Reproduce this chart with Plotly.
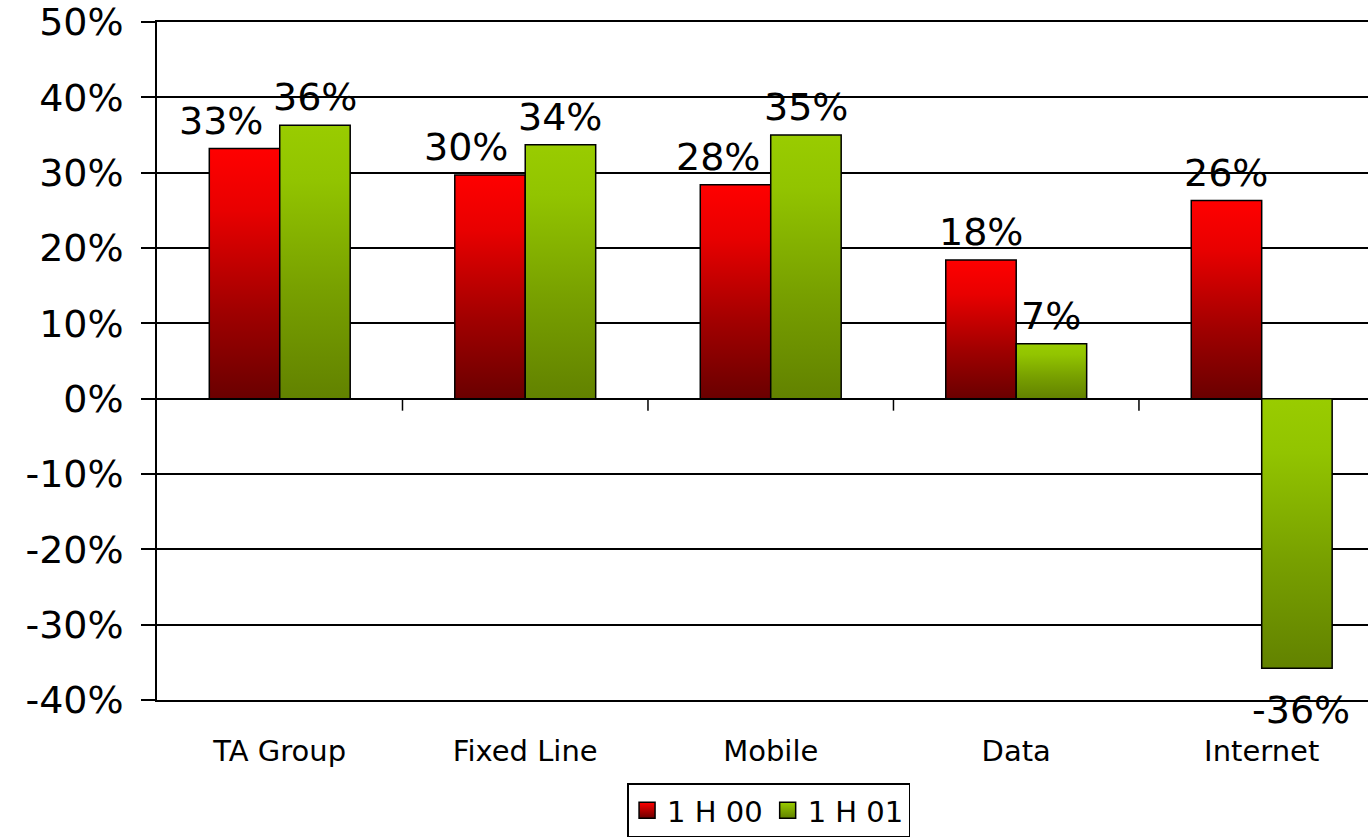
import plotly.graph_objects as go

# Growth by business segment, first half of 2000 vs first half of 2001
categories = ["TA Group", "Fixed Line", "Mobile", "Data", "Internet"]
h1_00 = [33.2, 29.7, 28.4, 18.4, 26.3]
h1_01 = [36.3, 33.7, 35.0, 7.3, -35.8]
series_names = ["1 H 00", "1 H 01"]
y_ticks = [-40, -30, -20, -10, 0, 10, 20, 30, 40, 50]

FONT = "DejaVu Sans"
BAR_W = 0.287          # width of one bar, in category units
RED_SCALE = [[0, "#6a0000"], [0.35, "#a00000"], [0.75, "#e80000"], [1, "#ff0000"]]
GREEN_SCALE = [[0, "#628200"], [0.4, "#78a000"], [0.8, "#92c400"], [1, "#99cc00"]]

fig = go.Figure()


def add_bar(idx, value, side, scale, name):
    # side = -1 draws the left bar of a group, +1 the right one
    x0 = idx if side > 0 else idx - BAR_W
    x1 = x0 + BAR_W
    fig.add_trace(go.Scatter(
        x=[x0, x0, x1, x1, x0],
        y=[0, value, value, 0, 0],
        mode="lines",
        fill="toself",
        fillgradient=dict(type="vertical", colorscale=scale),
        line=dict(color="black", width=1.5),
        hoverinfo="skip",
        showlegend=False,
        legendgroup=name,
    ))


for i, v in enumerate(h1_00):
    add_bar(i, v, -1, RED_SCALE, series_names[0])
for i, v in enumerate(h1_01):
    add_bar(i, v, +1, GREEN_SCALE, series_names[1])

# legend entries
for name, top, bottom in [(series_names[0], "#ff0000", "#6a0000"),
                          (series_names[1], "#99cc00", "#628200")]:
    fig.add_trace(go.Scatter(
        x=[None], y=[None], mode="markers", name=name, legendgroup=name,
        marker=dict(symbol="square", size=20, color=top,
                    gradient=dict(type="vertical", color=bottom),
                    line=dict(color="black", width=1.5)),
    ))

# value labels; the first three red labels sit a little to the left
label_shift = [-24, -24, -18, 0, 0]
for i, v in enumerate(h1_00):
    fig.add_annotation(x=i - BAR_W / 2, y=v, text=f"{round(v)}%", showarrow=False,
                       yanchor="bottom", yshift=4, xshift=label_shift[i],
                       font=dict(family=FONT, size=38, color="black"))
for i, v in enumerate(h1_01):
    fig.add_annotation(x=i + BAR_W / 2, y=v, text=f"{round(v)}%",
                       showarrow=False,
                       yanchor="bottom" if v >= 0 else "top",
                       yshift=4 if v >= 0 else -18, xshift=0 if v >= 0 else 4,
                       font=dict(family=FONT, size=38, color="black"))

# small tick marks on the zero line between categories
for b in range(1, len(categories)):
    fig.add_shape(type="line", xref="x", yref="y", x0=b - 0.5, x1=b - 0.5,
                  ysizemode="pixel", yanchor=0, y0=0, y1=-12,
                  line=dict(color="black", width=1.5))

fig.update_layout(
    width=1368, height=839,
    margin=dict(l=157, r=0, t=22, b=139),
    paper_bgcolor="white", plot_bgcolor="white",
    font=dict(family=FONT, color="black"),
    showlegend=True,
    legend=dict(orientation="h", x=0.505, xanchor="center", y=-0.123, yanchor="top",
                bordercolor="black", borderwidth=1.5, bgcolor="white",
                font=dict(family=FONT, size=29), itemclick=False,
                tracegroupgap=0, itemwidth=30),
    xaxis=dict(range=[-0.5, 4.433], tickvals=list(range(len(categories))),
               ticktext=categories, showgrid=False, zeroline=False,
               showline=True, mirror=True, linecolor="black", linewidth=1.5,
               ticks="", ticklabelstandoff=24, tickfont=dict(size=29), fixedrange=True),
    yaxis=dict(range=[-40, 50], tickvals=y_ticks, ticktext=[f"{t}%" for t in y_ticks],
               showgrid=True, gridcolor="black", gridwidth=1.5,
               zeroline=True, zerolinecolor="black", zerolinewidth=1.5,
               showline=True, linecolor="black", linewidth=1.5,
               ticks="outside", ticklen=14, tickcolor="black", tickwidth=1.5,
               ticklabelstandoff=10, ticklabeloverflow="allow",
               tickfont=dict(size=38), fixedrange=True),
)

fig.write_html("out.html")
